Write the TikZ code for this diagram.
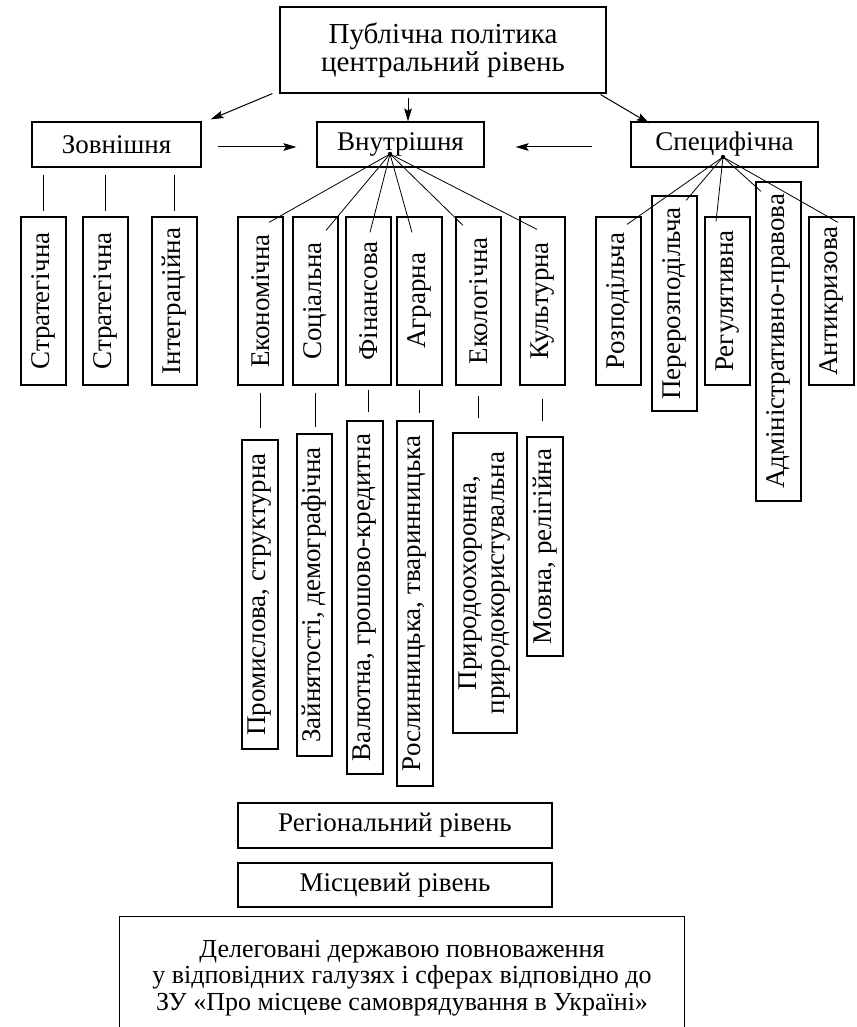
\documentclass[tikz,border=0pt]{standalone}
\usepackage{fontspec}
\setmainfont{Liberation Serif}
\usepackage{graphicx}
\usetikzlibrary{arrows.meta,positioning,calc}

\begin{document}
\begin{tikzpicture}[x=0.5pt, y=-0.5pt, >=Stealth,
  hbox/.style={draw, line width=0.6pt, inner sep=0pt, align=center, minimum height=22.5pt, font=\fontsize{13.5}{14}\selectfont},
  vbox/.style={draw, line width=0.6pt, inner sep=0pt, minimum width=22.5pt, minimum height=84pt, font=\fontsize{13.5}{14}\selectfont},
  nbox/.style={vbox, minimum width=18pt},
  arr/.style={-{Stealth[length=6.5pt,width=3.8pt,inset=1.2pt]}, line width=0.5pt},
  fan/.style={line width=0.4pt},
  stub/.style={line width=0.5pt}]
  \useasboundingbox (0,0) rectangle (856,1027);
  \node[hbox, minimum width=163pt, minimum height=43pt, font=\fontsize{14.5}{13.8}\selectfont](pub) at (443,50){Публічна політика\\центральний рівень};
  \node[hbox, minimum width=84.5pt](ext) at (116.5,144.5){Зовнішня};
  \node[hbox, minimum width=83.5pt](int) at (400.5,144.5){Внутрішня};
  \node[hbox, minimum width=93.5pt](spec) at (724.5,144.5){Специфічна};
  \draw[arr] ($(pub.south west)+(-7,0)$) -- ($(ext.north east)+(9,-2)$);
  \draw[arr] ($(pub.south)+(-35,4)$) -- ($(int.north)+(7.5,0)$);
  \draw[arr] ($(pub.south east)+(-6,1)$) -- ($(spec.north west)+(19,2)$);
  \draw[arr] ($(ext.east)+(16,2.5)$) -- ($(int.west)+(-20,2.5)$);
  \draw[arr] ($(spec.west)+(-38,2.5)$) -- ($(int.east)+(31,2.5)$);
  \node[vbox](str1) at (43.5,301){\rotatebox{90}{Стратегічна}};
  \node[vbox](str2) at (105.5,301){\rotatebox{90}{Стратегічна}};
  \node[vbox](integ) at (174.5,301){\rotatebox{90}{Інтеграційна}};
  \node[vbox](eco) at (260.5,301){\rotatebox{90}{Економічна}};
  \node[vbox](soc) at (315.5,301){\rotatebox{90}{Соціальна}};
  \node[vbox](fin) at (368.5,301){\rotatebox{90}{Фінансова}};
  \node[vbox](agr) at (419.5,301){\rotatebox{90}{Аграрна}};
  \node[vbox](ecol) at (478.5,301){\rotatebox{90}{Екологічна}};
  \node[vbox](cult) at (542.5,301){\rotatebox{90}{Культурна}};
  \node[vbox](rozp) at (618.5,301){\rotatebox{90}{Розподільча}};
  \node[vbox, minimum height=107.5pt](perer) at (674.5,303.5){\rotatebox{90}{Перерозподільча}};
  \node[vbox](reg) at (727.5,301){\rotatebox{90}{Регулятивна}};
  \node[vbox, minimum height=159.5pt](adm) at (778.5,341.5){\rotatebox{90}{Адміністративно-правова}};
  \node[vbox](anti) at (831.5,301){\rotatebox{90}{Антикризова}};
  \draw[stub] ($(str1.north |- ext.south)+(0,7)$) -- ($(str1.north)+(0,-5)$);
  \draw[stub] ($(str2.north |- ext.south)+(0,7)$) -- ($(str2.north)+(0,-5)$);
  \draw[stub] ($(integ.north |- ext.south)+(0,7)$) -- ($(integ.north)+(0,-5)$);
  \coordinate (intfan) at ($(int.center)+(-10.5,9.5)$);
  \coordinate (specfan) at ($(spec.center)+(-1.5,12.5)$);
  \fill (intfan) circle (1.1pt); \fill (specfan) circle (1.1pt);
  \draw[fan] (intfan) -- ($(eco.north)+(8.5,6)$); \draw[fan] (intfan) -- ($(soc.north)+(10.5,14)$);
  \draw[fan] (intfan) -- ($(fin.north)+(1.5,16)$); \draw[fan] (intfan) -- ($(agr.north)+(-7.5,16)$);
  \draw[fan] (intfan) -- ($(ecol.north)+(-15.5,9)$); \draw[fan] (intfan) -- ($(cult.north)+(-5.5,13)$);
  \draw[fan] (specfan) -- ($(rozp.north)+(8.5,8)$); \draw[fan] (specfan) -- ($(perer.north)+(11.5,5)$);
  \draw[fan] (specfan) -- ($(reg.north)+(-11.5,5)$); \draw[fan] (specfan) -- ($(adm.north)+(-17.5,10)$);
  \draw[fan] (specfan) -- ($(anti.north)+(6.5,6)$);
  \node[nbox, minimum height=154.5pt](prom) at (260,594.5){\rotatebox{90}{Промислова, структурна}};
  \node[nbox, minimum width=17.5pt, minimum height=161pt](zayn) at (314.5,595){\rotatebox{90}{Зайнятості, демографічна}};
  \node[nbox, minimum height=176.5pt](val) at (365,597.5){\rotatebox{90}{Валютна, грошово-кредитна}};
  \node[nbox, minimum height=182.5pt](rosl) at (415,603.5){\rotatebox{90}{Рослинницька, тваринницька}};
  \node[nbox, minimum width=32pt, minimum height=150pt](pryr) at (485,583){\rotatebox{90}{\begin{tabular}{@{}c@{}}Природоохоронна,\\природокористувальна\end{tabular}}};
  \node[nbox, minimum height=109.5pt](mov) at (545,546.5){\rotatebox{90}{Мовна, релігійна}};
  \draw[stub] ($(eco.south)+(0,7)$) -- ($(eco.south |- prom.north)+(0,-11)$);
  \draw[stub] ($(soc.south)+(0,7)$) -- ($(soc.south |- zayn.north)+(0,-6)$);
  \draw[stub] ($(fin.south)+(0,4)$) -- ($(fin.south |- val.north)+(0,-8)$);
  \draw[stub] ($(agr.south)+(0,4)$) -- ($(agr.south |- rosl.north)+(0,-7)$);
  \draw[stub] ($(ecol.south)+(0,10)$) -- ($(ecol.south |- pryr.north)+(0,-14)$);
  \draw[stub] ($(cult.south)+(0,13)$) -- ($(cult.south |- mov.north)+(0,-15)$);
  \node[hbox, minimum width=157pt](regl) at (395,825.5){Регіональний рівень};
  \node[hbox, minimum width=157pt, minimum height=22pt](locl) at (395,885){Місцевий рівень};
  \node[align=center, inner sep=0pt, minimum width=282pt, minimum height=61pt, font=\fontsize{13}{13.3}\selectfont](deleg) at (402,978){Делеговані державою повноваження\\у відповідних галузях і сферах відповідно до\\ЗУ «Про місцеве самоврядування в Україні»};
  \draw[line width=0.6pt] (deleg.north west) ++(0,110) -- (deleg.north west) -- (deleg.north east) -- ++(0,110);
\end{tikzpicture}
\end{document}
